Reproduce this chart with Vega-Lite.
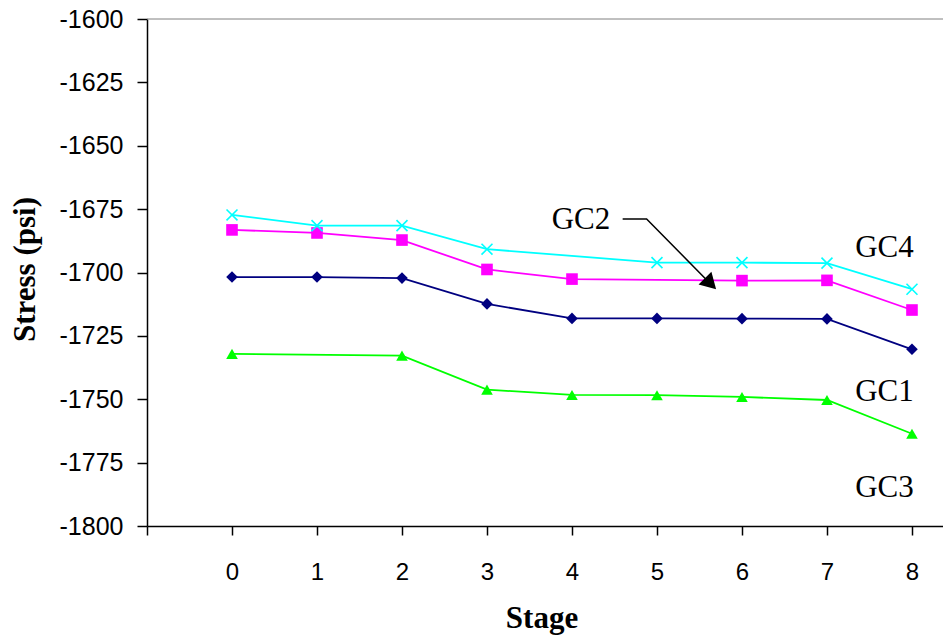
{
  "$schema": "https://vega.github.io/schema/vega-lite/v6.json",
  "width": 796,
  "height": 507,
  "autosize": {"type": "none"},
  "padding": {"left": 147, "top": 19, "right": 0, "bottom": 111},
  "background": "white",
  "view": {"stroke": null},
  "datasets": {
    "series": [
      {"stage": 0, "series": "GC1", "stress": -1701.8},
      {"stage": 1, "series": "GC1", "stress": -1701.8},
      {"stage": 2, "series": "GC1", "stress": -1702.2},
      {"stage": 3, "series": "GC1", "stress": -1712.4},
      {"stage": 4, "series": "GC1", "stress": -1718.1},
      {"stage": 5, "series": "GC1", "stress": -1718.1},
      {"stage": 6, "series": "GC1", "stress": -1718.2},
      {"stage": 7, "series": "GC1", "stress": -1718.3},
      {"stage": 8, "series": "GC1", "stress": -1730.3},
      {"stage": 0, "series": "GC2", "stress": -1683.2},
      {"stage": 1, "series": "GC2", "stress": -1684.4},
      {"stage": 2, "series": "GC2", "stress": -1687.2},
      {"stage": 3, "series": "GC2", "stress": -1698.8},
      {"stage": 4, "series": "GC2", "stress": -1702.6},
      {"stage": 6, "series": "GC2", "stress": -1703.2},
      {"stage": 7, "series": "GC2", "stress": -1703.1},
      {"stage": 8, "series": "GC2", "stress": -1714.8},
      {"stage": 0, "series": "GC3", "stress": -1732.1},
      {"stage": 2, "series": "GC3", "stress": -1732.8},
      {"stage": 3, "series": "GC3", "stress": -1746.2},
      {"stage": 4, "series": "GC3", "stress": -1748.3},
      {"stage": 5, "series": "GC3", "stress": -1748.4},
      {"stage": 6, "series": "GC3", "stress": -1749.1},
      {"stage": 7, "series": "GC3", "stress": -1750.3},
      {"stage": 8, "series": "GC3", "stress": -1763.6},
      {"stage": 0, "series": "GC4", "stress": -1677.3},
      {"stage": 1, "series": "GC4", "stress": -1681.5},
      {"stage": 2, "series": "GC4", "stress": -1681.5},
      {"stage": 3, "series": "GC4", "stress": -1690.8},
      {"stage": 5, "series": "GC4", "stress": -1696.1},
      {"stage": 6, "series": "GC4", "stress": -1696.1},
      {"stage": 7, "series": "GC4", "stress": -1696.3},
      {"stage": 8, "series": "GC4", "stress": -1706.6}
    ],
    "labels": [
      {"label": "GC2", "stage": 4.106, "stress": -1679.3},
      {"label": "GC4", "stage": 7.676, "stress": -1690.3},
      {"label": "GC1", "stage": 7.676, "stress": -1747.0},
      {"label": "GC3", "stage": 7.676, "stress": -1785.0}
    ],
    "arrow": [
      {"order": 1, "stage": 4.596, "stress": -1678.9},
      {"order": 2, "stage": 4.878, "stress": -1678.9},
      {"order": 3, "stage": 5.64, "stress": -1704.8}
    ],
    "head": [
      {"stage": 5.63, "stress": -1704.4}
    ],
    "top": [
      {"stress": -1600}
    ]
  },
  "encoding": {
    "x": {
      "field": "stage",
      "type": "quantitative",
      "scale": {"domain": [-1, 8.365], "nice": false, "zero": false},
      "axis": {
        "title": "Stage",
        "values": [-1, 0, 1, 2, 3, 4, 5, 6, 7, 8],
        "labelExpr": "datum.value < 0 ? '' : '' + datum.value",
        "grid": false,
        "domainColor": "#000000",
        "domainWidth": 1.5,
        "tickColor": "#000000",
        "tickWidth": 1.5,
        "tickSize": 9,
        "labelFont": "Liberation Sans",
        "labelFontSize": 24,
        "labelColor": "#000000",
        "labelBaseline": "alphabetic",
        "labelPadding": 44,
        "labelFlush": false,
        "titleFont": "Liberation Serif",
        "titleFontSize": 31,
        "titleFontWeight": "bold",
        "titleColor": "#000000",
        "titleBaseline": "alphabetic",
        "titleX": 394.5,
        "titleY": 101,
        "titleAnchor": null
      }
    },
    "y": {
      "field": "stress",
      "type": "quantitative",
      "scale": {"domain": [-1800, -1600], "nice": false, "zero": false},
      "axis": {
        "title": "Stress (psi)",
        "values": [-1800, -1775, -1750, -1725, -1700, -1675, -1650, -1625, -1600],
        "labelExpr": "'' + datum.value",
        "grid": false,
        "domainColor": "#000000",
        "domainWidth": 1.5,
        "tickColor": "#000000",
        "tickWidth": 1.5,
        "tickSize": 10,
        "labelFont": "Liberation Sans",
        "labelFontSize": 25,
        "labelColor": "#000000",
        "labelPadding": 14,
        "labelFlush": false,
        "titleFont": "Liberation Serif",
        "titleFontSize": 31,
        "titleFontWeight": "bold",
        "titleColor": "#000000",
        "titleAngle": -90,
        "titleBaseline": "middle",
        "titleAlign": "center",
        "titleX": -122,
        "titleY": 250
      }
    }
  },
  "layer": [
    {
      "data": {"name": "top"},
      "mark": {"type": "rule", "color": "#808080", "strokeWidth": 1},
      "encoding": {"x": {"value": 0}, "x2": {"value": 796}}
    },
    {
      "data": {"name": "series"},
      "mark": {"type": "line", "strokeWidth": 1.8},
      "encoding": {
        "color": {
          "field": "series",
          "type": "nominal",
          "scale": {"domain": ["GC1", "GC2", "GC3", "GC4"], "range": ["#000080", "#FF00FF", "#00FF00", "#00FFFF"]},
          "legend": null
        },
        "order": {"field": "stage", "type": "quantitative"}
      }
    },
    {
      "data": {"name": "series"},
      "transform": [{"filter": "datum.series != 'GC4'"}],
      "mark": {"type": "point", "filled": true, "opacity": 1, "size": 135},
      "encoding": {
        "color": {
          "field": "series",
          "type": "nominal",
          "scale": {"domain": ["GC1", "GC2", "GC3", "GC4"], "range": ["#000080", "#FF00FF", "#00FF00", "#00FFFF"]},
          "legend": null
        },
        "shape": {
          "field": "series",
          "type": "nominal",
          "scale": {"domain": ["GC1", "GC2", "GC3"], "range": ["diamond", "square", "triangle-up"]},
          "legend": null
        }
      }
    },
    {
      "data": {"name": "series"},
      "transform": [{"filter": "datum.series == 'GC4'"}],
      "mark": {"type": "point", "filled": false, "opacity": 1, "size": 120, "shape": "M-1,-1L1,1M-1,1L1,-1", "stroke": "#00FFFF", "strokeWidth": 1.6}
    },
    {
      "data": {"name": "labels"},
      "mark": {"type": "text", "font": "Liberation Serif", "fontSize": 31, "color": "#000000", "align": "center", "baseline": "middle"},
      "encoding": {"text": {"field": "label", "type": "nominal"}}
    },
    {
      "data": {"name": "arrow"},
      "mark": {"type": "line", "color": "#000000", "strokeWidth": 1.5},
      "encoding": {"order": {"field": "order", "type": "quantitative"}}
    },
    {
      "data": {"name": "head"},
      "mark": {"type": "point", "shape": "triangle-up", "filled": true, "color": "#000000", "opacity": 1, "size": 330, "angle": 135}
    }
  ]
}
